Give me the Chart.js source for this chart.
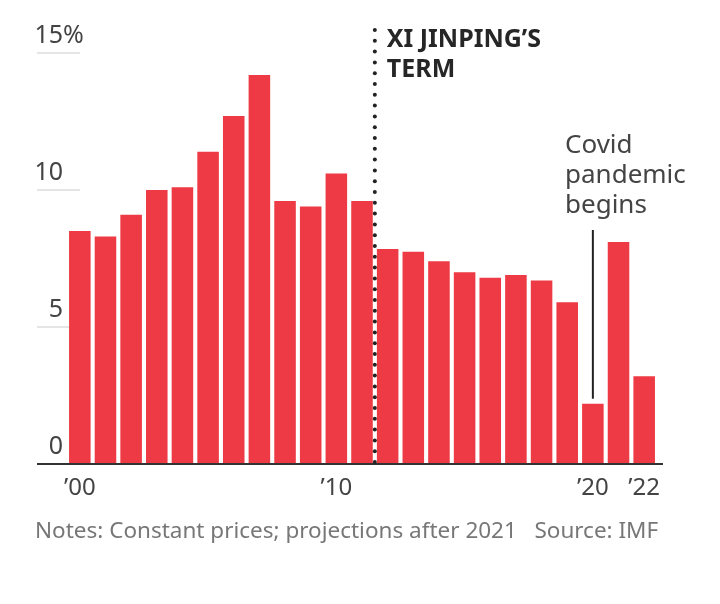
<!DOCTYPE html>
<html>
<head>
<meta charset="utf-8">
<script src="https://cdn.jsdelivr.net/npm/chart.js@4"></script>
<style>
  html, body { margin: 0; padding: 0; background: #ffffff; }
  #c { display: block; }
</style>
</head>
<body>
<canvas id="c" width="720" height="604"></canvas>
<script>
// ---- data ----
const years = ['2000','2001','2002','2003','2004','2005','2006','2007','2008','2009','2010',
               '2011','2012','2013','2014','2015','2016','2017','2018','2019','2020','2021','2022'];
const growth = [8.5, 8.3, 9.1, 10.0, 10.1, 11.4, 12.7, 14.2, 9.6, 9.4, 10.6,
                9.6, 7.85, 7.75, 7.4, 7.0, 6.8, 6.9, 6.7, 5.9, 2.2, 8.1, 3.2];
const labeledYears = ['2000', '2010', '2020', '2022'];
const yearTickText = ['\u201900', '\u201910', '\u201920', '\u201922'];
const yTicks = [0, 5, 10, 15];
const termStartAfter = '2011';
const covidYear = '2020';
const termText = ['XI JINPING\u2019S', 'TERM'];
const covidText = ['Covid', 'pandemic', 'begins'];
const noteText = 'Notes: Constant prices; projections after 2021   Source: IMF';

const RED = '#ee3a44';
const FONT = '"Noto Sans", "Open Sans", sans-serif';

const decor = {
  id: 'decor',
  beforeDatasetsDraw(chart) {
    const ctx = chart.ctx, ys = chart.scales.y;
    ctx.save();
    ctx.strokeStyle = '#dcdcdc';
    ctx.lineWidth = 1.5;
    yTicks.forEach(v => {
      if (v === 0) return;
      const y = ys.getPixelForValue(v);
      ctx.beginPath(); ctx.moveTo(37, y); ctx.lineTo(80, y); ctx.stroke();
    });
    ctx.restore();
  },
  afterDraw(chart) {
    const ctx = chart.ctx, xs = chart.scales.x, ys = chart.scales.y;
    ctx.save();
    // baseline
    const y0 = ys.getPixelForValue(0);
    ctx.strokeStyle = '#333'; ctx.lineWidth = 2;
    ctx.beginPath(); ctx.moveTo(37, y0); ctx.lineTo(663, y0); ctx.stroke();

    // % after top tick
    ctx.font = '25px ' + FONT;
    ctx.fillStyle = '#444';
    ctx.textAlign = 'left'; ctx.textBaseline = 'middle';
    ctx.fillText('%', 63, ys.getPixelForValue(15) - 17);

    // dotted term line
    const i = years.indexOf(termStartAfter);
    const xd = (xs.getPixelForValue(i) + xs.getPixelForValue(i + 1)) / 2;
    ctx.fillStyle = '#222';
    for (let y = y0 - 2; y >= 28; y -= 10.8) {
      ctx.beginPath(); ctx.arc(xd, y, 2, 0, Math.PI * 2); ctx.fill();
    }
    ctx.font = 'bold 25px ' + FONT;
    ctx.fillStyle = '#262626';
    ctx.textAlign = 'left'; ctx.textBaseline = 'alphabetic';
    ctx.fillText(termText[0], xd + 12, 47);
    ctx.fillText(termText[1], xd + 12, 77);

    // covid
    const ci = years.indexOf(covidYear);
    const xc = xs.getPixelForValue(ci);
    ctx.strokeStyle = '#222'; ctx.lineWidth = 2;
    ctx.beginPath(); ctx.moveTo(xc, 230); ctx.lineTo(xc, ys.getPixelForValue(growth[ci]) - 5); ctx.stroke();
    ctx.font = '26px ' + FONT;
    ctx.fillStyle = '#444';
    covidText.forEach((t, k) => ctx.fillText(t, 565, 153 + k * 30));

    // footnote
    ctx.font = '22.5px ' + FONT;
    ctx.fillStyle = '#777';
    ctx.fillText(noteText, 35, 538);
    ctx.restore();
  }
};

new Chart(document.getElementById('c'), {
  type: 'bar',
  data: {
    labels: years,
    datasets: [{
      data: growth,
      backgroundColor: RED,
      borderWidth: 0,
      barPercentage: 0.84,
      categoryPercentage: 1
    }]
  },
  options: {
    responsive: false,
    animation: false,
    layout: { padding: { left: 0, right: 63, top: 53, bottom: 100 } },
    plugins: { legend: { display: false }, tooltip: { enabled: false } },
    scales: {
      x: {
        grid: { display: false, drawTicks: false },
        border: { display: false },
        ticks: {
          autoSkip: false, maxRotation: 0, minRotation: 0, padding: 10,
          font: { family: FONT, size: 24 }, color: '#444',
          callback: (v, i) => {
            const k = labeledYears.indexOf(years[i]);
            return k >= 0 ? yearTickText[k] : '';
          }
        },
        afterFit: s => { s.height = 40; }
      },
      y: {
        min: 0, max: 15,
        afterBuildTicks: s => { s.ticks = yTicks.map(v => ({ value: v })); },
        grid: { display: false, drawTicks: false },
        border: { display: false },
        ticks: {
          padding: 4, labelOffset: -17,
          font: { family: FONT, size: 25 }, color: '#444',
          callback: v => String(v)
        },
        afterFit: s => { s.width = 67; }
      }
    }
  },
  plugins: [decor]
});
</script>
</body>
</html>
